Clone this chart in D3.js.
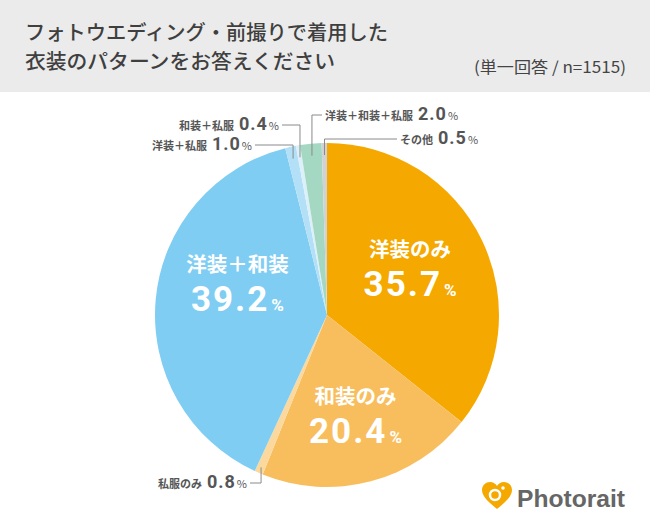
<!DOCTYPE html>
<html><head><meta charset="utf-8">
<script src="https://cdn.jsdelivr.net/npm/d3@7"></script>
<style>
html,body{margin:0;padding:0;background:#fff;}
svg{display:block;font-family:"Noto Sans CJK JP","Noto Sans",sans-serif;}
</style></head>
<body>
<svg id="chart" width="650" height="527"></svg>
<script>
// ---- data ----
const categories = ["洋装のみ","和装のみ","私服のみ","洋装＋和装","洋装＋私服","和装＋私服","洋装＋和装＋私服","その他"];
const values = [35.7, 20.4, 0.8, 39.2, 1.0, 0.4, 2.0, 0.5];
const colors = ["#F5A800","#F8BE5E","#FBD99E","#7FCDF3","#B3E0F7","#DCF0FA","#A4D8C3","#D2D2D2"];
const titleLines = ["フォトウエディング・前撮りで着用した","衣装のパターンをお答えください"];
const subtitle = "(単一回答 / n=1515)";
const brand = "Photorait";

// ---- layout ----
const W = 650, H = 527;
const cx = 327, cy = 315, R = 172;
const numFont = "Roboto,'Noto Sans',sans-serif";
// big inside labels: index -> offset from centroid
const bigLabels = [
  {i:0, dx:-7, dy:-2},
  {i:1, dx:3, dy:5},
  {i:3, dx:10, dy:-21}
];
// callouts: index, label y, side, end x of horizontal line (text side), inner radius
const callouts = [
  {i:2, y:483, side:"left",  lx:250, r:166},
  {i:4, y:145, side:"left",  lx:255, r:160},
  {i:5, y:125, side:"left",  lx:282, r:160},
  {i:6, y:115, side:"right", lx:322, r:160},
  {i:7, y:139, side:"right", lx:397, r:160}
];

const svg = d3.select("#chart");

// header band
svg.append("rect").attr("x",0).attr("y",0).attr("width",W).attr("height",92).attr("fill","#EBEBEB");
const titleW = [363, 310];
titleLines.forEach((t,k)=>{
  svg.append("text").attr("x",25).attr("y",40 + k*29)
    .attr("font-size",20).attr("font-weight",500).attr("fill","#3f3f3f")
    .attr("textLength",titleW[k]).attr("lengthAdjust","spacingAndGlyphs")
    .text(t);
});
svg.append("text").attr("x",474).attr("y",73)
  .attr("font-size",16).attr("fill","#444")
  .attr("textLength",152).attr("lengthAdjust","spacingAndGlyphs").text(subtitle);

// pie
const pie = d3.pie().sort(null).value(d=>d).startAngle(0).endAngle(2*Math.PI);
const arcs = pie(values);
const arc = d3.arc().innerRadius(0).outerRadius(R);
const g = svg.append("g").attr("transform",`translate(${cx},${cy})`);
g.selectAll("path.slice").data(arcs).join("path")
  .attr("class","slice").attr("d",arc).attr("fill",(d,i)=>colors[i]);

// big labels
const lblArc = d3.arc().innerRadius(100).outerRadius(100);
bigLabels.forEach(b=>{
  const a = arcs[b.i];
  const [x,y] = lblArc.centroid(a);
  const px = x + b.dx, py = y + b.dy;
  g.append("text").attr("x",px).attr("y",py-13).attr("text-anchor","middle")
    .attr("font-size",20.5).attr("font-weight",700).attr("fill","#fff")
    .text(categories[b.i]);
  const t = g.append("text").attr("x",px).attr("y",py+26).attr("text-anchor","middle")
    .attr("fill","#fff").attr("font-weight",700).attr("font-family",numFont);
  t.append("tspan").attr("font-size",35).attr("letter-spacing",2).text(d3.format(".1f")(values[b.i]));
  t.append("tspan").attr("font-size",17).attr("dx",2).text("%");
});

// callouts
callouts.forEach(c=>{
  const a = arcs[c.i];
  const mid = (a.startAngle + a.endAngle)/2;
  const ex = cx + c.r*Math.sin(mid), ey = cy - c.r*Math.cos(mid);
  svg.append("path")
    .attr("d",`M${c.lx},${c.y}H${ex}V${ey}`)
    .attr("fill","none").attr("stroke","#8a8a8a").attr("stroke-width",1);
  const tx = c.side==="left" ? c.lx-3 : c.lx+3;
  const t = svg.append("text").attr("x",tx).attr("y",c.y+5)
    .attr("text-anchor", c.side==="left" ? "end" : "start")
    .attr("fill","#555").attr("font-weight",700);
  t.append("tspan").attr("font-size",11).text(categories[c.i]);
  t.append("tspan").attr("font-size",18).attr("dx",5).attr("letter-spacing",1).attr("font-family",numFont).text(d3.format(".1f")(values[c.i]));
  t.append("tspan").attr("font-size",11).attr("font-weight",400).attr("dx",1).text("%");
});

// logo
const lg = svg.append("g");
lg.append("path")
  .attr("d","M497,509 C490,503 482,497 482,490 C482,485 486,482 490,482 C493,482 496,484 497,486 C498,484 501,482 504,482 C508,482 512,485 512,490 C512,497 504,503 497,509 Z")
  .attr("fill","#F5A800");
lg.append("circle").attr("cx",495).attr("cy",495).attr("r",5).attr("fill","none").attr("stroke","#fff").attr("stroke-width",2.5);
lg.append("circle").attr("cx",503).attr("cy",488).attr("r",1.8).attr("fill","#fff");
svg.append("text").attr("x",517).attr("y",507).attr("font-family","'Liberation Sans',Arial,sans-serif")
  .attr("font-size",24).attr("font-weight",700).attr("fill","#666")
  .attr("textLength",108).attr("lengthAdjust","spacingAndGlyphs").text(brand);
</script>
</body></html>
